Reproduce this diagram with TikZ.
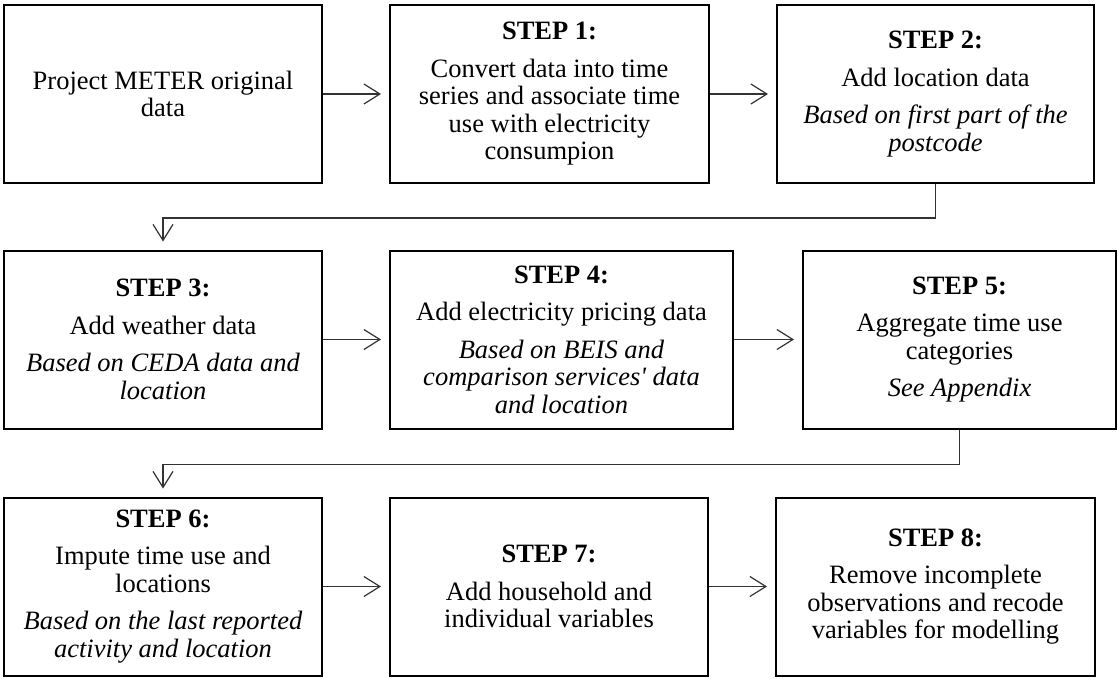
\documentclass[tikz,border=0pt]{standalone}
\usepackage{fontspec}
\setmainfont{Liberation Serif}
\usetikzlibrary{arrows.meta}
\tikzset{
  stepbox/.style={draw, line width=2pt, inner sep=0pt, minimum height=178pt},
  flow/.style={-{Straight Barb[length=16pt,width=20pt]}, line width=1.2pt, draw=black!80, shorten >=8pt}
}
\newcommand{\gap}{\\[10pt]}
\begin{document}
\begin{tikzpicture}[x=1pt, y=-1pt, every node/.style={align=center, font=\fontsize{26.5}{27.5}\selectfont}]
  \useasboundingbox (0,0) rectangle (1118,679);
  \node[stepbox, minimum width=318pt] (M) at (163,94) {Project METER original\\data};
  \node[stepbox, minimum width=319pt] (S1) at (549.5,94) {\textbf{STEP 1:}\gap Convert data into time\\series and associate time\\use with electricity\\consumpion};
  \node[stepbox, minimum width=317pt] (S2) at (935.5,94) {\textbf{STEP 2:}\gap Add location data\gap \textit{Based on first part of the}\\\textit{postcode}};
  \node[stepbox, minimum width=318pt] (S3) at (163,339.5) {\textbf{STEP 3:}\gap Add weather data\gap \textit{Based on CEDA data and}\\\textit{location}};
  \node[stepbox, minimum width=343pt] (S4) at (561.5,339.5) {\textbf{STEP 4:}\gap Add electricity pricing data\gap \textit{Based on BEIS and}\\\textit{comparison services\textquotesingle{} data}\\\textit{and location}};
  \node[stepbox, minimum width=313pt] (S5) at (959.5,339.5) {\textbf{STEP 5:}\gap Aggregate time use\\categories\gap \textit{See Appendix}};
  \node[stepbox, minimum width=318pt] (S6) at (163,586.5) {\textbf{STEP 6:}\gap Impute time use and\\locations\gap \textit{Based on the last reported}\\\textit{activity and location}};
  \node[stepbox, minimum width=318pt] (S7) at (549,586.5) {\textbf{STEP 7:}\gap Add household and\\individual variables};
  \node[stepbox, minimum width=319pt] (S8) at (935.5,586.5) {\textbf{STEP 8:}\gap Remove incomplete\\observations and recode\\variables for modelling};
  \draw[flow] (M) -- (S1);
  \draw[flow] (S1) -- (S2);
  \draw[flow] (S2.south) -- ++(0,34) -| (S3.north);
  \draw[flow] (S3) -- (S4);
  \draw[flow] (S4) -- (S5);
  \draw[flow] (S5.south) -- ++(0,35) -| (S6.north);
  \draw[flow] (S6) -- (S7);
  \draw[flow] (S7) -- (S8);
\end{tikzpicture}
\end{document}
